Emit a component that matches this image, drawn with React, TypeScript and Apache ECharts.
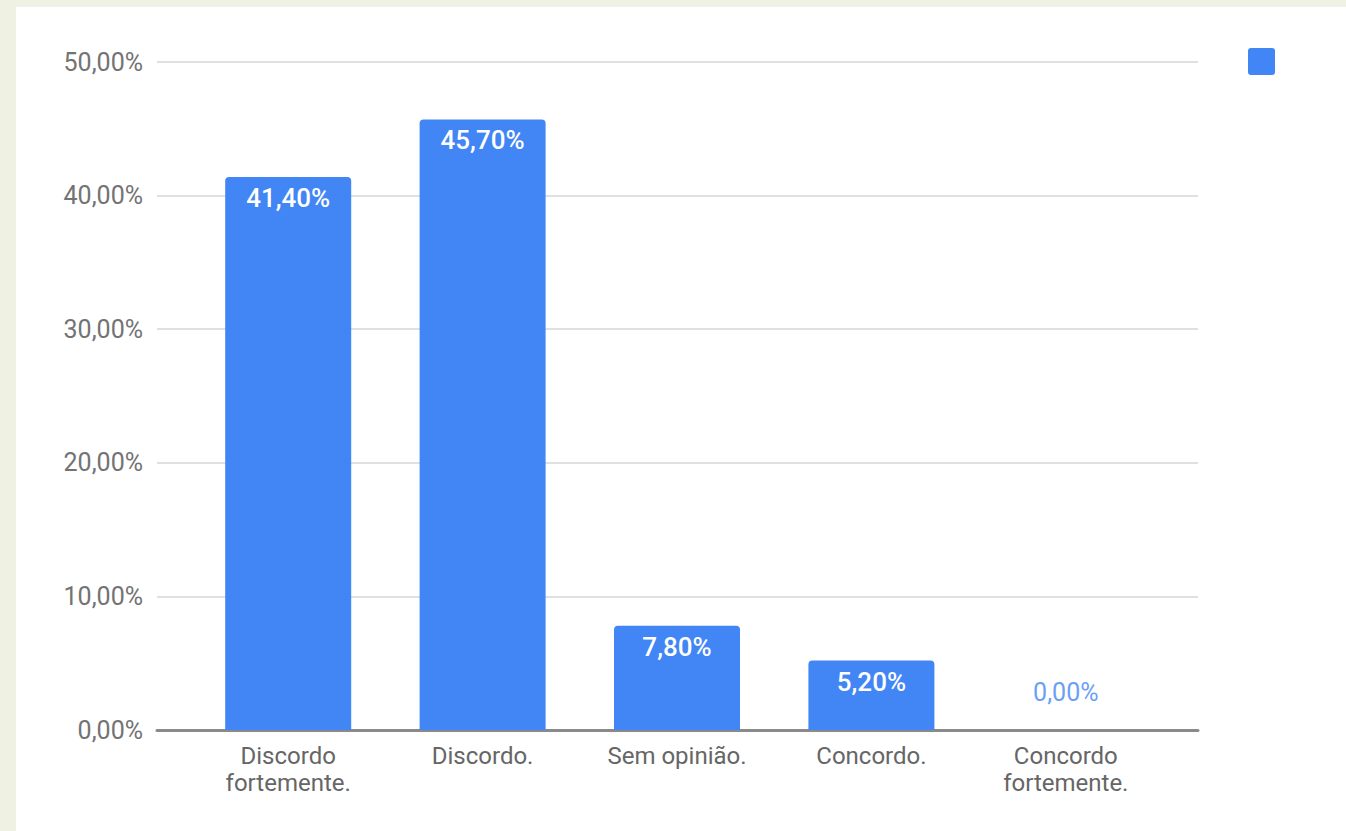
import React, { useEffect, useRef } from "react";
import * as echarts from "echarts";

const categories: string[] = [
  "Discordo\nfortemente.",
  "Discordo.",
  "Sem opinião.",
  "Concordo.",
  "Concordo\nfortemente.",
];
const values: number[] = [41.4, 45.7, 7.8, 5.2, 0];
const yTicks: number[] = [0, 10, 20, 30, 40, 50];

const fmt = (v: number) => v.toFixed(2).replace(".", ",") + "%";

export default function App() {
  const ref = useRef<HTMLDivElement>(null);

  useEffect(() => {
    if (!ref.current) return;
    const chart = echarts.init(ref.current, undefined, { renderer: "svg" });
    const font = "Roboto, 'Noto Sans', Arial, sans-serif";
    const grid = { top: 55, bottom: 101 };
    chart.setOption({
      animation: false,
      backgroundColor: "#ffffff",
      textStyle: { fontFamily: font },
      legend: {
        show: true,
        left: 1227,
        top: 36,
        itemWidth: 27,
        itemHeight: 27,
        icon: "path://M3,0H24Q27,0 27,3V24Q27,27 24,27H3Q0,27 0,24V3Q0,0 3,0Z",
        data: [" "],
        textStyle: { fontSize: 1, color: "#ffffff" },
        selectedMode: false,
      },
      grid: [
        { left: 141, right: 148, ...grid },
        { left: 175, right: 183, ...grid },
      ],
      xAxis: [
        {
          gridIndex: 0,
          type: "value",
          min: 0,
          max: 1,
          axisLabel: { show: false },
          axisTick: { show: false },
          splitLine: { show: false },
          axisLine: { show: true, lineStyle: { color: "#8a8a8a", width: 3 } },
        },
        {
          gridIndex: 1,
          type: "category",
          data: categories,
          axisLine: { show: false },
          axisTick: { show: false },
          axisLabel: {
            interval: 0,
            margin: 12,
            fontSize: 24,
            lineHeight: 27,
            color: "#666666",
            fontFamily: font,
          },
        },
      ],
      yAxis: [
        {
          gridIndex: 0,
          type: "value",
          min: yTicks[0],
          max: yTicks[yTicks.length - 1],
          interval: 10,
          axisLine: { show: false },
          axisTick: { show: false },
          axisLabel: {
            margin: 14,
            fontSize: 25,
            color: "#737373",
            fontFamily: font,
            formatter: (v: number) => fmt(v),
          },
          splitLine: { show: true, lineStyle: { color: "#e0e0e0", width: 2 } },
        },
        {
          gridIndex: 1,
          type: "value",
          min: yTicks[0],
          max: yTicks[yTicks.length - 1],
          interval: 10,
          show: false,
          splitLine: { show: false },
        },
      ],
      series: [
        {
          name: " ",
          type: "bar",
          xAxisIndex: 1,
          yAxisIndex: 1,
          barWidth: 126,
          itemStyle: { color: "#4285f4", borderRadius: [4, 4, 0, 0] },
          label: {
            show: true,
            position: "insideTop",
            distance: 8,
            color: "#ffffff",
            fontSize: 26,
            fontWeight: 500,
            fontFamily: font,
            formatter: (p: any) => fmt(p.value),
          },
          data: values.map((v) =>
            v === 0
              ? {
                  value: v,
                  label: {
                    position: "top",
                    distance: 25,
                    color: "#6b9ff6",
                    fontWeight: 400,
                    fontSize: 25,
                  },
                }
              : v
          ),
        },
      ],
    });
    return () => chart.dispose();
  }, []);

  return (
    <div
      style={{
        position: "fixed",
        left: 0,
        top: 0,
        width: 1346,
        height: 831,
        background: "#eff1e3",
      }}
    >
      <div
        ref={ref}
        style={{
          position: "absolute",
          left: 16,
          top: 7,
          width: 1330,
          height: 824,
        }}
      />
    </div>
  );
}
